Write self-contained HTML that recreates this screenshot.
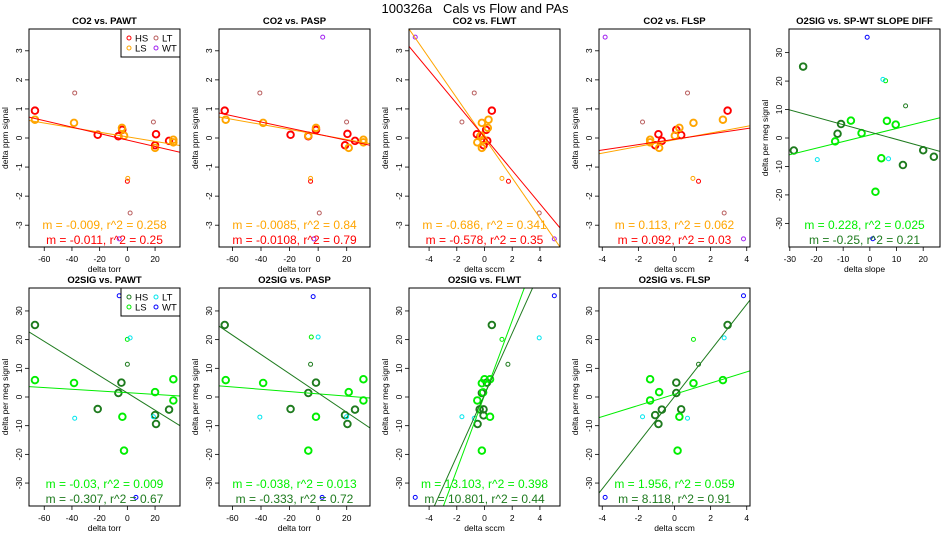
<!DOCTYPE html>
<html><head><meta charset="utf-8"><style>
html,body{margin:0;padding:0;background:#fff;width:950px;height:550px;overflow:hidden;}
svg{display:block;font-family:"Liberation Sans",Arial,sans-serif;}
</style></head><body>
<svg id="chart" width="950" height="550" viewBox="0 0 950 550" xmlns="http://www.w3.org/2000/svg">
<text x="475" y="13" font-size="13" text-anchor="middle" style="white-space:pre" xml:space="preserve">100326a   Cals vs Flow and PAs</text>
</svg>
<script>
// ---- data ----
const p1HSx=[-66.7,-21.4,-6.5,-3.7,20,20.7,30.1], p1HSy=[0.94,0.11,0.06,0.28,-0.25,0.13,-0.1];
const p1LSx=[-66.7,-38.5,-3.9,-2.4,20,33.2,33.2], p1LSy=[0.63,0.52,0.35,0.08,-0.34,-0.06,-0.15];
const p1HSsx=[0], p1HSsy=[-1.49], p1LSsx=[0.3], p1LSsy=[-1.39];
const p1LTx=[-38,18.8,2], p1LTy=[1.55,0.55,-2.58];
const p1WTx=[-5.9], p1WTy=[-3.47];
const p1Lines=[[-0.0079,0.04],[-0.0111,-0.07]];
const p1Notes=["m = -0.009, r^2 = 0.258","m = -0.011, r^2 = 0.25"];

const p2HSx=[-65.4,-19.3,-6.9,-1.5,18.8,20.5,25.8], p2HSy=[0.94,0.11,0.06,0.28,-0.25,0.14,-0.1];
const p2LSx=[-64.7,-38.5,-6.9,-1.5,21.4,31.7,31.7], p2LSy=[0.63,0.52,0.08,0.35,-0.34,-0.06,-0.15];
const p2HSsx=[-5.3], p2HSsy=[-1.49], p2LSsx=[-5.3], p2LSsy=[-1.39];
const p2LTx=[-40.8,19.9,0.8], p2LTy=[1.55,0.55,-2.58];
const p2WTx=[3.2,-3], p2WTy=[3.47,-3.47];
const p2Lines=[[-0.0087,0.12],[-0.0105,0.13]];
const p2Notes=["m = -0.0085, r^2 = 0.84","m = -0.0108, r^2 = 0.79"];

const p3HSx=[0.53,-0.55,0.12,-0.07,-0.3,0.2], p3HSy=[0.94,0.13,0.28,-0.25,0.06,-0.1];
const p3LSx=[0.29,-0.19,0.24,-0.07,-0.52,-0.19,-0.26], p3LSy=[0.63,0.52,0.35,-0.06,-0.15,-0.34,0.08];
const p3HSsx=[1.73], p3HSsy=[-1.49], p3LSsx=[1.26], p3LSsy=[-1.39];
const p3LTx=[-0.74,-1.63,3.95], p3LTy=[1.55,0.55,-2.58];
const p3WTx=[-5,5.04], p3WTy=[3.47,-3.47];
const p3Lines=[[-0.688,0],[-0.573,0.03]];
const p3Notes=["m = -0.686, r^2 = 0.341","m = -0.578, r^2 = 0.35"];

const p4HSx=[2.94,-0.89,0.1,0.37,-1.07,-0.7], p4HSy=[0.94,0.13,0.28,0.1,-0.25,-0.1];
const p4LSx=[2.68,1.05,0.27,-1.35,-1.35,-0.85,0.02], p4LSy=[0.63,0.52,0.35,-0.06,-0.15,-0.34,0.08];
const p4HSsx=[1.33], p4HSsy=[-1.49], p4LSsx=[1.02], p4LSsy=[-1.39];
const p4LTx=[0.72,-1.77,2.75], p4LTy=[1.55,0.55,-2.58];
const p4WTx=[-3.84,3.82], p4WTy=[3.47,-3.47];
const p4Lines=[[0.115,-0.06],[0.092,-0.045]];
const p4Notes=["m = 0.113, r^2 = 0.062","m = 0.092, r^2 = 0.03"];

const p5HSx=[-25,-28.5,-12.1,-10.8,12.4,20,24], p5HSy=[25.1,-4.4,1.5,4.9,-9.5,-4.3,-6.6];
const p5LSx=[-13,-7.1,-3.1,4.3,6.4,9.7,2.1], p5LSy=[-1.2,6.1,1.7,-7.1,6,4.7,-18.9];
const p5HSsx=[13.4], p5HSsy=[11.3], p5LSsx=[5.9], p5LSsy=[20.1];
const p5LTx=[4.9,-19.7,7], p5LTy=[20.6,-7.6,-7.3];
const p5WTx=[-1,1.1], p5WTy=[35.4,-35.4];
const p5Lines=[[0.23,1.05],[-0.259,2.1]];
const p5Notes=["m = 0.228, r^2 = 0.025","m = -0.25, r^2 = 0.21"];

const p6HSx=[-66.7,-21.4,-6.5,-4.3,20,20.7,30.1], p6HSy=[25.1,-4.2,1.4,5,-6.3,-9.4,-4.4];
const p6LSx=[-66.7,-38.5,-3.6,-2.4,20,33.2,33.2], p6LSy=[5.9,4.9,-6.9,-18.7,1.7,6.2,-1.2];
const p6HSsx=[0], p6HSsy=[11.4], p6LSsx=[0], p6LSsy=[20.1];
const p6LTx=[2,-38,18.8], p6LTy=[20.6,-7.4,-6.9];
const p6WTx=[-5.9,6.2], p6WTy=[35.3,-35];
const p6Lines=[[-0.03,1.5],[-0.3,1.4]];
const p6Notes=["m = -0.03, r^2 = 0.009","m = -0.307, r^2 = 0.67"];

const p7HSx=[-65.4,-19.3,-6.9,-1.5,18.8,20.5,25.8], p7HSy=[25.1,-4.2,1.4,5,-6.3,-9.4,-4.4];
const p7LSx=[-64.7,-38.5,-1.5,-6.9,21.4,31.7,31.7], p7LSy=[5.9,4.9,-6.9,-18.7,1.7,6.2,-1.2];
const p7HSsx=[-5.3], p7HSsy=[11.4], p7LSsx=[-4.8], p7LSsy=[20.9];
const p7LTx=[0,-40.8,19.9], p7LTy=[20.9,-7.0,-6.9];
const p7WTx=[-3.5,2.8], p7WTy=[35,-35];
const p7Lines=[[-0.04,1.1],[-0.336,1.4]];
const p7Notes=["m = -0.038, r^2 = 0.013","m = -0.333, r^2 = 0.72"];

const p8HSx=[0.53,-0.19,0.17,-0.07,-0.35,-0.5,-0.07], p8HSy=[25.1,1.4,5,-4.3,-4.3,-9.4,-6.4];
const p8LSx=[0,0.4,-0.19,-0.52,0.4,-0.19,-0.1], p8LSy=[6.2,6.2,4.8,-1.2,-6.9,-18.7,1.6];
const p8HSsx=[1.69], p8HSsy=[11.4], p8LSsx=[1.26], p8LSsy=[20.1];
const p8LTx=[3.95,-1.63,-0.74], p8LTy=[20.6,-6.9,-7.4];
const p8WTx=[5.04,-5], p8WTy=[35.3,-35];
const p8Lines=[[13.02,0.6],[10.72,0.8]];
const p8Notes=["m = 13.103, r^2 = 0.398","m = 10.801, r^2 = 0.44"];

const p9HSx=[2.94,0.1,0.1,0.37,-1.07,-0.7,-0.89], p9HSy=[25.1,1.4,5,-4.3,-6.3,-4.4,-9.4];
const p9LSx=[2.68,1.05,0.27,-1.35,-1.35,-0.85,0.17], p9LSy=[5.9,4.8,-6.9,-1.2,6.2,1.7,-18.7];
const p9HSsx=[1.33], p9HSsy=[11.4], p9LSsx=[1.05], p9LSsy=[20.1];
const p9LTx=[2.75,-1.77,0.72], p9LTy=[20.6,-6.9,-7.4];
const p9WTx=[3.82,-3.84], p9WTy=[35.3,-35];
const p9Lines=[[1.95,0.95],[8.05,0.15]];
const p9Notes=["m = 1.956, r^2 = 0.059","m = 8.118, r^2 = 0.91"];

const torrTicks=[-60,-40,-20,0,20], sccmTicks=[-4,-2,0,2,4], slopeTicks=[-30,-20,-10,0,10,20];
const co2Ticks=[-3,-2,-1,0,1,2,3], o2Ticks=[-30,-20,-10,0,10,20,30];

const CO2C={HS:"#ff0000",LS:"#ffa500",LT:"#b85c5c",WT:"#a020f0"};
const O2C={HS:"#1e7b1e",LS:"#00ee00",LT:"#00e5ee",WT:"#0000ff"};

const panels=[
 {id:1,col:0,row:0,title:"CO2 vs. PAWT",xd:[-71,38],yd:[-3.75,3.75],xt:torrTicks,yt:co2Ticks,xl:"delta torr",yl:"delta ppm signal",c:CO2C,legend:true,
  d:[p1HSx,p1HSy,p1LSx,p1LSy,p1HSsx,p1HSsy,p1LSsx,p1LSsy,p1LTx,p1LTy,p1WTx,p1WTy],L:p1Lines,N:p1Notes},
 {id:2,col:1,row:0,title:"CO2 vs. PASP",xd:[-69.4,36.3],yd:[-3.75,3.75],xt:torrTicks,yt:co2Ticks,xl:"delta torr",yl:"delta ppm signal",c:CO2C,
  d:[p2HSx,p2HSy,p2LSx,p2LSy,p2HSsx,p2HSsy,p2LSsx,p2LSsy,p2LTx,p2LTy,p2WTx,p2WTy],L:p2Lines,N:p2Notes},
 {id:3,col:2,row:0,title:"CO2 vs. FLWT",xd:[-5.45,5.45],yd:[-3.75,3.75],xt:sccmTicks,yt:co2Ticks,xl:"delta sccm",yl:"delta ppm signal",c:CO2C,
  d:[p3HSx,p3HSy,p3LSx,p3LSy,p3HSsx,p3HSsy,p3LSsx,p3LSsy,p3LTx,p3LTy,p3WTx,p3WTy],L:p3Lines,N:p3Notes},
 {id:4,col:3,row:0,title:"CO2 vs. FLSP",xd:[-4.18,4.18],yd:[-3.75,3.75],xt:sccmTicks,yt:co2Ticks,xl:"delta sccm",yl:"delta ppm signal",c:CO2C,
  d:[p4HSx,p4HSy,p4LSx,p4LSy,p4HSsx,p4HSsy,p4LSsx,p4LSsy,p4LTx,p4LTy,p4WTx,p4WTy],L:p4Lines,N:p4Notes},
 {id:5,col:4,row:0,title:"O2SIG vs. SP-WT SLOPE DIFF",xd:[-30.3,26.3],yd:[-38.3,38.3],xt:slopeTicks,yt:o2Ticks,xl:"delta slope",yl:"delta per meg signal",c:O2C,
  d:[p5HSx,p5HSy,p5LSx,p5LSy,p5HSsx,p5HSsy,p5LSsx,p5LSsy,p5LTx,p5LTy,p5WTx,p5WTy],L:p5Lines,N:p5Notes},
 {id:6,col:0,row:1,title:"O2SIG vs. PAWT",xd:[-71,38],yd:[-38,38],xt:torrTicks,yt:o2Ticks,xl:"delta torr",yl:"delta per meg signal",c:O2C,legend:true,
  d:[p6HSx,p6HSy,p6LSx,p6LSy,p6HSsx,p6HSsy,p6LSsx,p6LSsy,p6LTx,p6LTy,p6WTx,p6WTy],L:p6Lines,N:p6Notes},
 {id:7,col:1,row:1,title:"O2SIG vs. PASP",xd:[-69.4,36.3],yd:[-38,38],xt:torrTicks,yt:o2Ticks,xl:"delta torr",yl:"delta per meg signal",c:O2C,
  d:[p7HSx,p7HSy,p7LSx,p7LSy,p7HSsx,p7HSsy,p7LSsx,p7LSsy,p7LTx,p7LTy,p7WTx,p7WTy],L:p7Lines,N:p7Notes},
 {id:8,col:2,row:1,title:"O2SIG vs. FLWT",xd:[-5.45,5.45],yd:[-38,38],xt:sccmTicks,yt:o2Ticks,xl:"delta sccm",yl:"delta per meg signal",c:O2C,
  d:[p8HSx,p8HSy,p8LSx,p8LSy,p8HSsx,p8HSsy,p8LSsx,p8LSsy,p8LTx,p8LTy,p8WTx,p8WTy],L:p8Lines,N:p8Notes},
 {id:9,col:3,row:1,title:"O2SIG vs. FLSP",xd:[-4.18,4.18],yd:[-38,38],xt:sccmTicks,yt:o2Ticks,xl:"delta sccm",yl:"delta per meg signal",c:O2C,
  d:[p9HSx,p9HSy,p9LSx,p9LSy,p9HSsx,p9HSsy,p9LSsx,p9LSsy,p9LTx,p9LTy,p9WTx,p9WTy],L:p9Lines,N:p9Notes}
];

const NS="http://www.w3.org/2000/svg";
const svg=document.getElementById('chart');
function mk(tag,attrs,parent){const e=document.createElementNS(NS,tag);for(const k in attrs)e.setAttribute(k,attrs[k]);(parent||svg).appendChild(e);return e;}

panels.forEach(p=>{
  const L=29+190*p.col, W=151, T=p.row?288:29, B=p.row?506:247;
  const sx=v=>L+(v-p.xd[0])/(p.xd[1]-p.xd[0])*W;
  const sy=v=>B-(v-p.yd[0])/(p.yd[1]-p.yd[0])*(B-T);
  const g=mk('g',{});
  
  
  const ttl=mk('text',{x:L+W/2,y:T-5,'font-size':9.5,'font-weight':'bold','text-anchor':'middle'},g);
  ttl.textContent=p.title;
  
  
  const cp=mk('clipPath',{id:'cp'+p.id},g);
  mk('rect',{x:L,y:T,width:W,height:B-T},cp);
  p.xt.forEach(v=>{
    const x=sx(v);
    mk('line',{x1:x,x2:x,y1:B,y2:B+4,stroke:'#000','stroke-width':0.8},g);
    const t=mk('text',{x:x,y:B+15,'font-size':8.5,'text-anchor':'middle'},g);
    t.textContent=v;
    
    
  });
  mk('line',{x1:sx(p.xt[0]),x2:sx(p.xt[p.xt.length-1]),y1:B,y2:B,stroke:'#000','stroke-width':0.8},g);
  p.yt.forEach(v=>{
    const y=sy(v);
    mk('line',{x1:L-4,x2:L,y1:y,y2:y,stroke:'#000','stroke-width':0.8},g);
    const t=mk('text',{x:L-7,y:y,'font-size':8.5,'text-anchor':'middle',transform:`rotate(-90 ${L-7} ${y})`},g);
    t.textContent=v;
    
    
  });
  const xl=mk('text',{x:L+W/2,y:B+25,'font-size':8.5,'text-anchor':'middle'},g);
  xl.textContent=p.xl;
  
  
  const yc=(T+B)/2, yx=L-21;
  const yl=mk('text',{x:yx,y:yc,'font-size':8.5,'text-anchor':'middle',transform:`rotate(-90 ${yx} ${yc})`},g);
  yl.textContent=p.yl;
  
  
  const groups=[['HS',3.3,1.9],['LS',3.3,1.9],['HS',2,1],['LS',2,1],['LT',2,1],['WT',2,1]];
  groups.forEach((gr,i)=>{
    const xs=p.d[2*i], ys=p.d[2*i+1];
    xs.forEach((xv,j)=>{
      const c=mk('circle',{cx:sx(xv),cy:sy(ys[j]),r:gr[1],fill:'none',stroke:p.c[gr[0]],'stroke-width':gr[2]},g);
      
      
    });
  });
  const lg=mk('g',{'clip-path':`url(#cp${p.id})`},g);
  [[p.c.LS,0],[p.c.HS,1]].forEach(([col,k])=>{
    const m=p.L[k][0], b=p.L[k][1];
    const l=mk('line',{x1:sx(p.xd[0]),y1:sy(m*p.xd[0]+b),x2:sx(p.xd[1]),y2:sy(m*p.xd[1]+b),stroke:col,'stroke-width':1},lg);
    
    
  });
  [[p.N[0],p.c.LS,B-22],[p.N[1],p.c.HS,B-7]].forEach(([txt,col,y],k)=>{
    const t=mk('text',{x:L+W/2,y:y+4,'font-size':12,'text-anchor':'middle',fill:col},g);
    t.textContent=txt;
    
    
  });
  mk('rect',{x:L,y:T,width:W,height:B-T,fill:'none',stroke:'#000','stroke-width':1},g);
  if(p.legend){
    const lgd=mk('g',{},g);
    
    
    const lx=L+W-59;
    mk('rect',{x:lx,y:T,width:59,height:28,fill:'#fff',stroke:'#000','stroke-width':1},lgd);
    [['HS',0,0],['LT',1,0],['LS',0,1],['WT',1,1]].forEach(([k,cx,ry])=>{
      const px=lx+8+cx*27, py=T+9+ry*10;
      mk('circle',{cx:px,cy:py,r:2,fill:'none',stroke:p.c[k],'stroke-width':1},lgd);
      const t=mk('text',{x:px+6,y:py+3.5,'font-size':9.5},lgd);
      t.textContent=k;
      
      
    });
  }
});
</script>
</body></html>
